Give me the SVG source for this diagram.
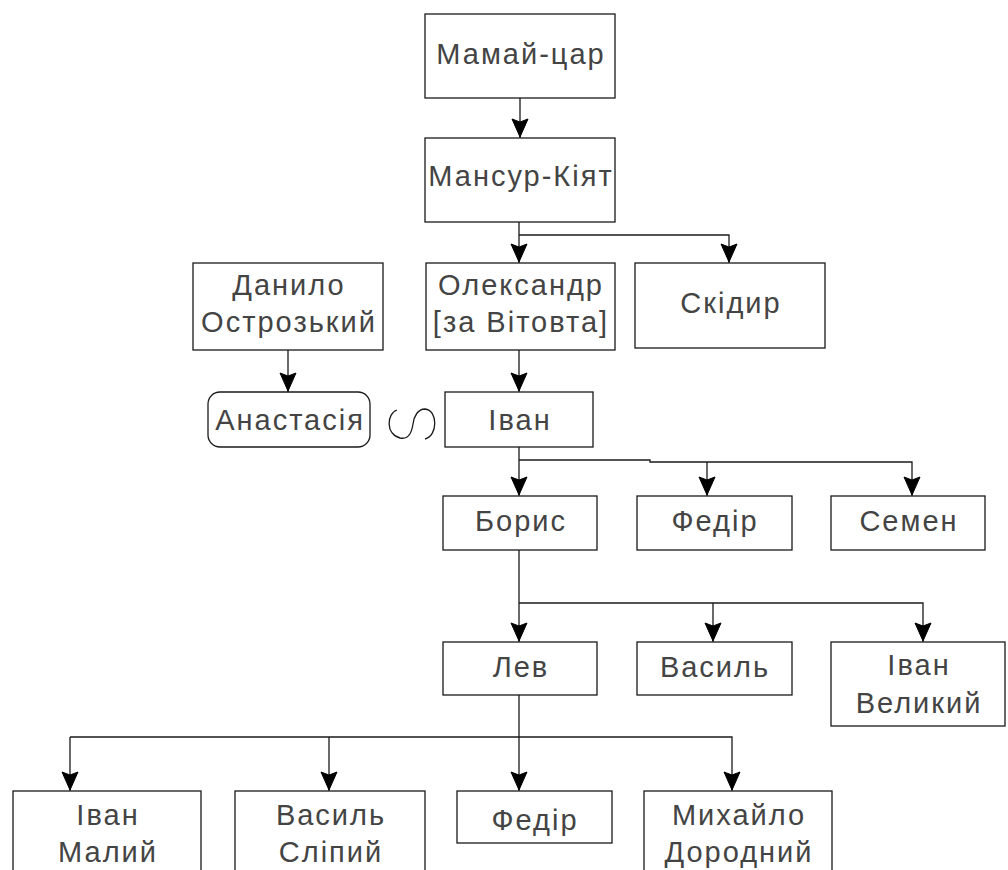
<svg xmlns="http://www.w3.org/2000/svg" width="1008" height="870" viewBox="0 0 1008 870">
<style>
  .box { fill: #fff; stroke: #1a1a1a; stroke-width: 1.3; }
  .lbl { font-family: "Liberation Sans", Arial, sans-serif; font-size: 29px; letter-spacing: 2px; fill: #444; text-anchor: middle; }
  .con { fill: none; stroke: #1a1a1a; stroke-width: 1.3; }
</style>
<defs>
  <path id="ah" d="M-8,-18 L0,-15 L8,-18 L0,0 Z" fill="#000" stroke="#000" stroke-width="1" stroke-linejoin="miter"/>
</defs>
<rect width="1008" height="870" fill="#fff"/>

<g id="connectors">
  <path class="con" d="M520,98 V138"/>
  <path class="con" d="M519,222 V263"/>
  <path class="con" d="M519,235 H729 V263"/>
  <path class="con" d="M288,350 V392"/>
  <path class="con" d="M519,350 V392"/>
  <path class="con" d="M519,447 V496"/>
  <path class="con" d="M519,460 H650 V462 H912 V496"/>
  <path class="con" d="M707,462 V496"/>
  <path class="con" d="M519,550 V642"/>
  <path class="con" d="M519,603 H923 V642"/>
  <path class="con" d="M713,603 V642"/>
  <path class="con" d="M519,695 V791"/>
  <path class="con" d="M70,737 H732 V791"/>
  <path class="con" d="M70,737 V791"/>
  <path class="con" d="M329,737 V791"/>
  <use href="#ah" x="520" y="137"/>
  <use href="#ah" x="519" y="262"/>
  <use href="#ah" x="729" y="262"/>
  <use href="#ah" x="288" y="391"/>
  <use href="#ah" x="519" y="391"/>
  <use href="#ah" x="519" y="495"/>
  <use href="#ah" x="707" y="495"/>
  <use href="#ah" x="912" y="495"/>
  <use href="#ah" x="519" y="641"/>
  <use href="#ah" x="713" y="641"/>
  <use href="#ah" x="923" y="641"/>
  <use href="#ah" x="70" y="790"/>
  <use href="#ah" x="329" y="790"/>
  <use href="#ah" x="519" y="790"/>
  <use href="#ah" x="732" y="790"/>
</g>

<g id="mamai"><rect class="box" x="425" y="14" width="190" height="84"/><text class="lbl" x="521" y="64">Мамай-цар</text></g>
<g id="mansur"><rect class="box" x="425" y="138" width="190" height="84"/><text class="lbl" x="521" y="186">Мансур-Кіят</text></g>
<g id="danylo"><rect class="box" x="193" y="263" width="190" height="87"/><text class="lbl" x="289" y="295">Данило</text><text class="lbl" x="289" y="332">Острозький</text></g>
<g id="oleksandr"><rect class="box" x="426" y="263" width="189" height="87"/><text class="lbl" x="521" y="295">Олександр</text><text class="lbl" x="521" y="332">[за Вітовта]</text></g>
<g id="skidyr"><rect class="box" x="635" y="263" width="190" height="85"/><text class="lbl" x="731" y="313">Скідир</text></g>
<g id="anastasia"><rect class="box" x="208" y="392" width="162" height="55" rx="12"/><text class="lbl" x="290" y="430">Анастасія</text></g>
<g id="marriage"><path class="con" d="M397,410 C387,413 385,434 400,438 C410,440 412,430 413,424 C414,416 418,409 425,409 C438,410 438,436 425,439"/></g>
<g id="ivan"><rect class="box" x="445" y="392" width="148" height="55"/><text class="lbl" x="520" y="430">Іван</text></g>
<g id="boris"><rect class="box" x="443" y="496" width="154" height="54"/><text class="lbl" x="521" y="531">Борис</text></g>
<g id="fedir1"><rect class="box" x="637" y="496" width="155" height="54"/><text class="lbl" x="715" y="531">Федір</text></g>
<g id="semen"><rect class="box" x="831" y="496" width="154" height="54"/><text class="lbl" x="909" y="531">Семен</text></g>
<g id="lev"><rect class="box" x="443" y="642" width="154" height="53"/><text class="lbl" x="521" y="677">Лев</text></g>
<g id="vasyl"><rect class="box" x="637" y="642" width="155" height="53"/><text class="lbl" x="715" y="677">Василь</text></g>
<g id="ivan-velykyi"><rect class="box" x="831" y="642" width="174" height="84"/><text class="lbl" x="919" y="675">Іван</text><text class="lbl" x="919" y="713">Великий</text></g>
<g id="ivan-malyi"><rect class="box" x="13" y="791" width="188" height="95"/><text class="lbl" x="108" y="825">Іван</text><text class="lbl" x="108" y="862">Малий</text></g>
<g id="vasyl-slipyi"><rect class="box" x="235" y="791" width="190" height="95"/><text class="lbl" x="331" y="825">Василь</text><text class="lbl" x="331" y="862">Сліпий</text></g>
<g id="fedir2"><rect class="box" x="457" y="791" width="155" height="52"/><text class="lbl" x="535" y="830">Федір</text></g>
<g id="mykhailo"><rect class="box" x="644" y="791" width="188" height="95"/><text class="lbl" x="739" y="825">Михайло</text><text class="lbl" x="739" y="862">Дородний</text></g>
</svg>
